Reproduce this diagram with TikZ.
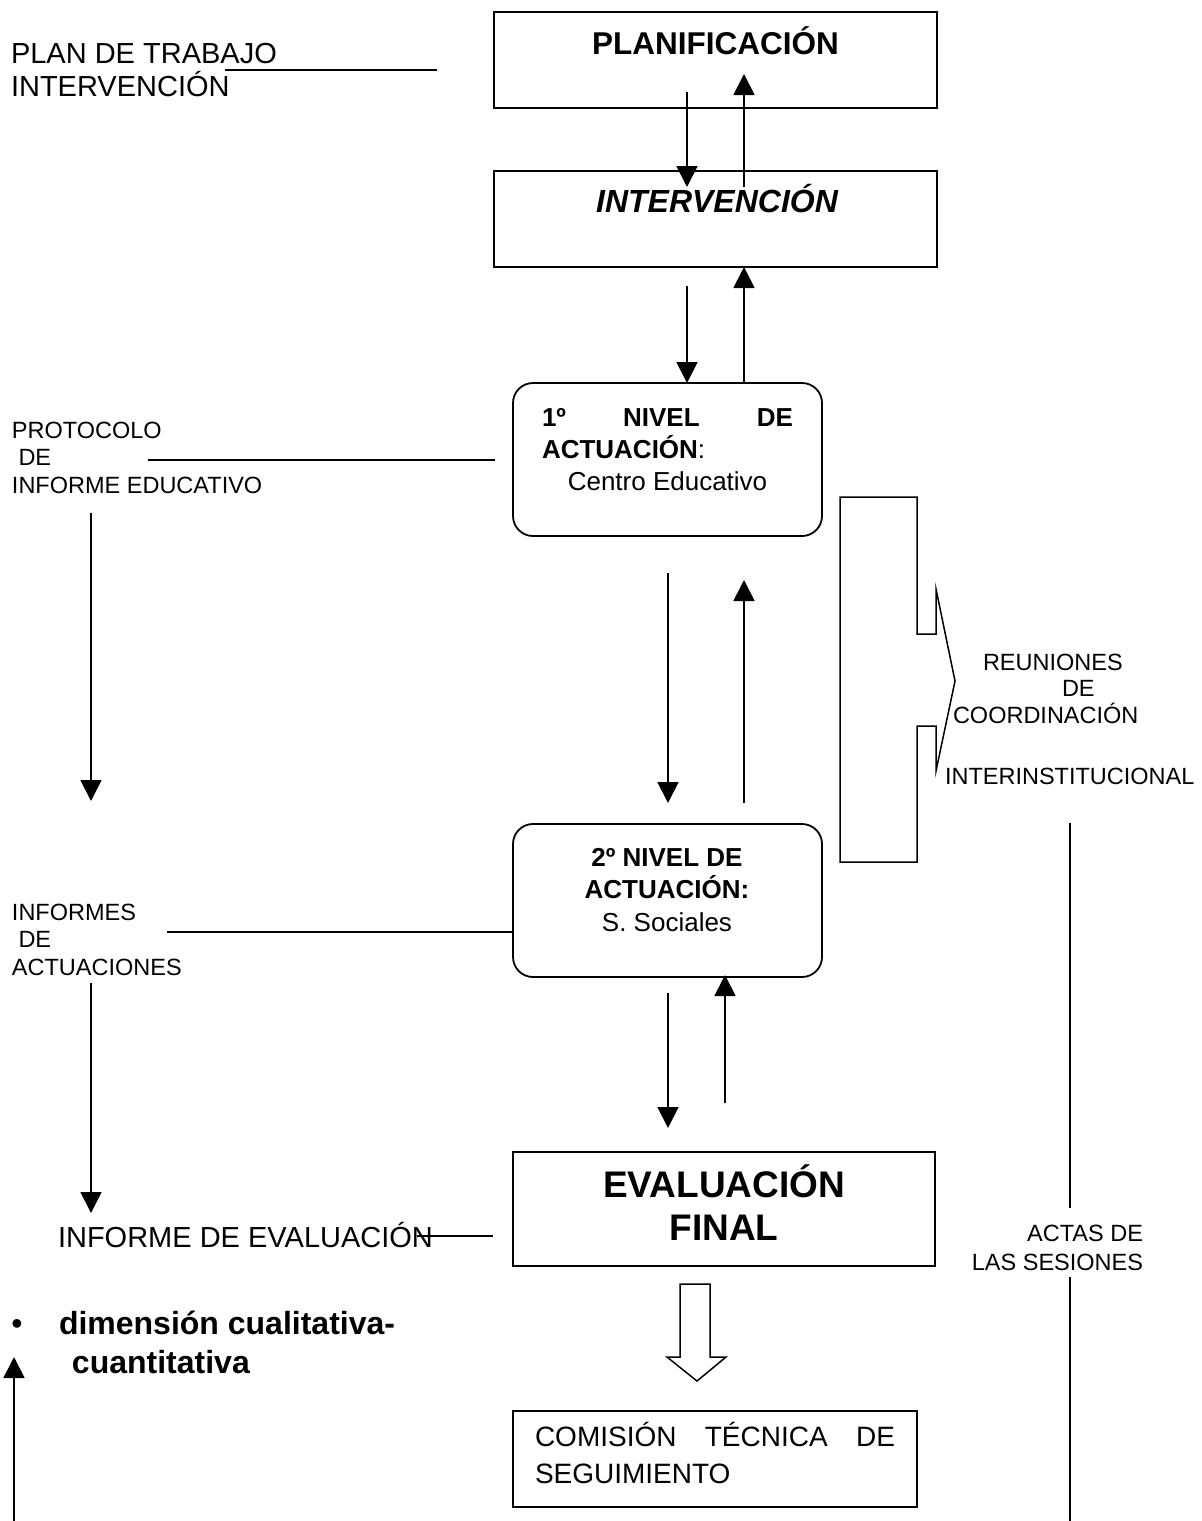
\documentclass[tikz,border=0pt]{standalone}
\usepackage{fontspec}
\setmainfont{Liberation Sans}
\usetikzlibrary{arrows.meta,calc}
\begin{document}
\begin{tikzpicture}[x=1pt,y=-1pt,
  box/.style={draw,line width=1.8pt,inner sep=0pt,outer sep=0pt,anchor=north west},
  rbox/.style={box,rounded corners=20pt},
  conn/.style={line width=1.8pt,-{Triangle[width=21pt,length=21pt]}},
  plainline/.style={line width=1.8pt},
  txt/.style={inner sep=0pt,outer sep=0pt},
  lbl/.style={txt,anchor=base west,align=left},
]
\useasboundingbox (0,0) rectangle (1202,1521);

% ---- boxes ----
\node[box,minimum width=443pt,minimum height=96pt] (plan) at (494,12) {};
\node[box,minimum width=443pt,minimum height=96pt] (interv) at (494,171) {};
\node[rbox,minimum width=309pt,minimum height=153pt] (n1) at (513,383) {};
\node[rbox,minimum width=309pt,minimum height=153pt] (n2) at (513,824) {};
\node[box,minimum width=422pt,minimum height=114pt] (eval) at (513,1152) {};
\node[box,minimum width=404pt,minimum height=96pt] (com) at (513,1411) {};

% ---- box texts (multi-line nodes: base = baseline of the last line) ----
\node[txt,anchor=base,font=\fontsize{31.5}{36}\selectfont\bfseries] (tplan) at (715.5,54.3) {PLANIFICACIÓN};
\node[txt,anchor=base,font=\fontsize{32}{36}\selectfont\bfseries\itshape] (tinterv) at (717,212.4) {INTERVENCIÓN};
\node[lbl,font=\fontsize{26}{32}\selectfont] (tn1) at (542,490.3)
  {\hbox to 251pt{\bfseries 1º\hfill NIVEL\hfill DE}\\\textbf{ACTUACIÓN}:\\\hbox to 251pt{\hfill Centro Educativo\hfill}};
\node[txt,anchor=base,align=center,font=\fontsize{26}{32.5}\selectfont] (tn2) at (667,931.3)
  {\textbf{2º NIVEL DE}\\\textbf{ACTUACIÓN:}\\S. Sociales};
\node[txt,anchor=base,align=center,font=\fontsize{37}{43}\selectfont\bfseries] (teval) at (724,1240) {EVALUACIÓN\\FINAL};
\node[lbl,font=\fontsize{28}{37}\selectfont] (tcom) at (535,1483.5)
  {\hbox to 360pt{COMISIÓN\hfill TÉCNICA\hfill DE}\\SEGUIMIENTO};

% ---- side labels ----
\node[lbl,font=\fontsize{29}{33}\selectfont] (lplan) at (11,96.4) {PLAN DE TRABAJO\\INTERVENCIÓN};
\node[lbl,font=\fontsize{23.5}{27.5}\selectfont] (lprot) at (12,493.4) {PROTOCOLO\\\hspace*{6.5pt}DE\\INFORME EDUCATIVO};
\node[lbl,font=\fontsize{23.5}{27.5}\selectfont] (linf) at (12,975.4) {INFORMES\\\hspace*{6.5pt}DE\\ACTUACIONES};
\node[lbl,font=\fontsize{29}{33}\selectfont] (leval) at (58,1247.4) {INFORME DE EVALUACIÓN};
\node[txt,anchor=base,font=\fontsize{32}{39}\selectfont] (bullet) at (17,1334.5) {•};
\node[lbl,font=\fontsize{32}{39}\selectfont\bfseries] (ldim) at (59,1373.5) {dimensión cualitativa-\\\hspace*{13pt}cuantitativa};
\node[lbl,font=\fontsize{23.5}{26.5}\selectfont] (lreu) at (945,784.4)
  {\hspace*{38pt}REUNIONES\\\hspace*{117pt}DE\\\hspace*{8pt}COORDINACIÓN\\[34.5pt]INTERINSTITUCIONAL};
\node[txt,anchor=base east,align=right,font=\fontsize{23.5}{29}\selectfont] (lactas) at (1143,1270.4) {ACTAS DE\\LAS SESIONES};

% ---- vertical arrows between boxes ----
\draw[conn] ($(plan.south west)+(193,-16)$) -- ($(interv.north west)+(193,16)$);
\draw[conn] ($(interv.north west)+(250,16)$) -- ($(plan.south west)+(250,-34)$);
\draw[conn] ($(interv.south west)+(193,19)$) -- ($(n1.north west)+(174,0)$);
\draw[conn] ($(n1.north west)+(231,0)$) -- ($(interv.south west)+(250,0)$);
\draw[conn] ($(n1.south west)+(155,37)$) -- ($(n2.north west)+(155,-21)$);
\draw[conn] ($(n2.north west)+(231,-21)$) -- ($(n1.south west)+(231,44)$);
\draw[conn] ($(n2.south west)+(155,16)$) -- ($(eval.north west)+(155,-24)$);
\draw[conn] ($(eval.north west)+(212,-49)$) -- ($(n2.south west)+(212,-2)$);

% ---- hollow arrow to the commission ----
\draw[plainline,line width=1.5pt,line join=miter]
  (680,1284) -- (710,1284) -- (710,1357) -- (726,1357) -- (697,1381) -- (667,1357) -- (680,1357) -- cycle;

% ---- label lines ----
\coordinate (planA) at (225,70);
\coordinate (planB) at (437,70);
\draw[plainline] (planA) -- (planB);
\coordinate (protA) at (148,460);
\coordinate (protB) at (495,460);
\draw[plainline] (protA) -- (protB);
\coordinate (infA) at (167,932);
\draw[plainline] (infA) -- (infA -| n2.west);
\coordinate (evA) at (417,1236);
\coordinate (evB) at (493,1236);
\draw[plainline] (evA) -- (evB);

% ---- left arrows ----
\coordinate (l1a) at (91,513);
\coordinate (l1b) at (91,801);
\draw[conn] (l1a) -- (l1b);
\coordinate (l2a) at (91,983);
\coordinate (l2b) at (91,1213);
\draw[conn] (l2a) -- (l2b);
\coordinate (l3a) at (14,1521);
\coordinate (l3b) at (14,1357);
\draw[conn] (l3a) -- (l3b);

% ---- coordination bracket ----
\draw[plainline,line width=1.5pt,line join=miter]
  (840,497) -- (917,497) -- (917,634) -- (936,634) -- (936,589) -- (955,681)
  -- (936,771) -- (936,726) -- (917,726) -- (917,862) -- (840,862) -- cycle;

% ---- right vertical line ----
\coordinate (r1) at (1070,823);
\coordinate (r2) at (1070,1208);
\coordinate (r3) at (1070,1277);
\coordinate (r4) at (1070,1521);
\draw[plainline] (r1) -- (r2);
\draw[plainline] (r3) -- (r4);
\end{tikzpicture}
\end{document}
